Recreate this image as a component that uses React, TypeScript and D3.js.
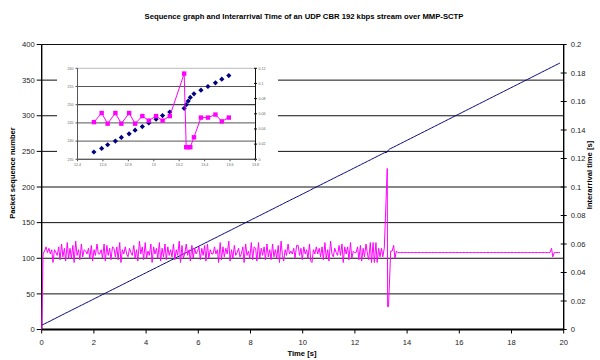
import * as React from "react";
import * as d3 from "d3";

// interarrival gaps in ms, one per received packet (first packet has no gap)
const seqStart = 6;
const gapMs = [
  0,
  53, 55, 58, 54, 57, 53, 56, 47, 56, 54,
  52, 58, 49, 60, 51, 57, 48, 61, 50, 57,
  50, 59, 47, 62, 52, 56, 49, 60, 51, 56,
  55, 53, 57, 50, 59, 48, 56, 52, 60, 53,
  53, 56, 50, 60, 48, 59, 52, 57, 49, 58,
  57, 51, 58, 49, 61, 47, 56, 53, 58, 53,
  51, 57, 54, 52, 59, 50, 56, 48, 62, 53,
  58, 49, 61, 50, 55, 52, 60, 47, 58, 53,
  57, 50, 61, 48, 57, 51, 60, 49, 58, 52,
  56, 51, 60, 49, 56, 52, 62, 47, 59, 50,
  53, 60, 52, 56, 48, 59, 50, 57, 53, 55,
  58, 49, 57, 52, 59, 48, 60, 50, 56, 53,
  53, 58, 53, 56, 47, 61, 49, 58, 51, 57,
  53, 62, 48, 56, 50, 59, 52, 54, 57, 51,
  53, 58, 47, 60, 52, 55, 50, 61, 49, 58,
  57, 48, 61, 50, 57, 52, 58, 49, 60, 51,
  56, 49, 60, 51, 56, 50, 59, 47, 62, 52,
  48, 56, 52, 60, 53, 55, 53, 57, 50, 59,
  59, 52, 57, 49, 58, 53, 56, 50, 60, 48,
  47, 56, 53, 58, 53, 57, 51, 58, 49, 61,
  50, 56, 48, 62, 53, 51, 57, 54, 52, 59,
  52, 60, 47, 58, 53, 58, 49, 61, 50, 55,
  54, 54, 58, 49, 59, 48, 57, 51, 60, 53,
  49, 61, 47, 61, 47, 61, 47, 57, 51, 57, 51, 57,
  // handover
  113, 16, 16, 16, 29, 55, 55, 59, 50, 55,
  54, 54, 54, 54, 54, 54, 54, 54, 54, 54,
  54, 54, 54, 54, 54, 54, 54, 54, 54, 54,
  54, 54, 54, 54, 54, 54, 54, 54, 54, 54,
  54, 54, 54, 54, 54, 54, 54, 54, 54, 54,
  54, 54, 54, 54, 54, 54, 54, 54, 54, 54,
  54, 54, 54, 54, 54, 54, 54, 54, 54, 54,
  54, 54, 54, 54, 54, 54, 54, 54, 54, 54,
  54, 54, 54, 54, 54, 54, 54, 54, 54, 54,
  54, 54, 54, 54, 54, 54, 54, 54, 54, 54,
  54, 54, 54, 54, 54, 54, 54, 54, 54, 54,
  54, 54, 54, 54, 54, 54, 54, 54, 54,
  57, 51,
  54, 54, 54, 54, 54,
];

const xTicks = [0, 2, 4, 6, 8, 10, 12, 14, 16, 18, 20];
const seqTicks = [0, 50, 100, 150, 200, 250, 300, 350, 400];
const gapTicks = [0, 0.02, 0.04, 0.06, 0.08, 0.1, 0.12, 0.14, 0.16, 0.18, 0.2];
const insetXTicks = [12.4, 12.6, 12.8, 13, 13.2, 13.4, 13.6, 13.8];
const insetSeqTicks = [235, 240, 245, 250, 255, 260];
const insetGapTicks = [0, 0.02, 0.04, 0.06, 0.08, 0.1, 0.12];

const TITLE = "Sequence graph and Interarrival Time of an UDP CBR 192 kbps stream over MMP-SCTP";
const BLUE = "#000080";
const PINK = "#ff00ff";
const FONT = "Liberation Sans, Arial, sans-serif";

const M = { left: 41.7, right: 563.7, top: 44.5, bottom: 329.5 };
const IN = { left: 77.5, right: 255.5, top: 68.3, bottom: 159.3 };

interface Pkt { t: number; seq: number; gap: number }

function buildPackets(): Pkt[] {
  let t = 0;
  return gapMs.map((g, i) => {
    t += g / 1000;
    return { t, seq: seqStart + i, gap: g / 1000 };
  });
}

const fmt = (v: number) => String(+v.toFixed(2));

export default function App() {
  const pkts = buildPackets();

  const x = d3.scaleLinear().domain([0, 20]).range([M.left, M.right]);
  const yL = d3.scaleLinear().domain([0, 400]).range([M.bottom, M.top]);
  const yR = d3.scaleLinear().domain([0, 0.2]).range([M.bottom, M.top]);

  const seqLine = d3.line<Pkt>().x((p) => x(p.t)).y((p) => yL(p.seq));
  const gapLine = d3.line<Pkt>().x((p) => x(p.t)).y((p) => yR(p.gap));

  const ix = d3.scaleLinear().domain([12.4, 13.8]).range([IN.left, IN.right]);
  const iyL = d3.scaleLinear().domain([235, 260]).range([IN.bottom, IN.top]);
  const iyR = d3.scaleLinear().domain([0, 0.12]).range([IN.bottom, IN.top]);
  const zoomed = pkts.filter((p) => p.t >= 12.5 && p.t <= 13.6);
  const iGapLine = d3.line<Pkt>().x((p) => ix(p.t)).y((p) => iyR(p.gap));

  const lab = { fontFamily: FONT, fontSize: 7.6, fill: "#222" };
  const small = { fontFamily: FONT, fontSize: 3.6, fill: "#666" };

  return (
    <svg
      width={600}
      height={360}
      style={{ position: "absolute", left: 0, top: 0, background: "#fff" }}
    >
      <rect x={0} y={0} width={600} height={360} fill="#fff" />
      <text x={304} y={19} textAnchor="middle" fontFamily={FONT} fontSize={7.7} fontWeight="bold">
        {TITLE}
      </text>

      {/* gridlines */}
      {seqTicks.filter((t) => t > 0).map((t) => (
        <line key={`g${t}`} x1={M.left} x2={M.right} y1={yL(t)} y2={yL(t)} stroke="#111" strokeWidth={1} />
      ))}

      {/* left axis */}
      <line x1={M.left} x2={M.left} y1={M.top} y2={M.bottom} stroke="#000" strokeWidth={1.4} />
      {seqTicks.map((t) => (
        <g key={`l${t}`}>
          <line x1={M.left - 5} x2={M.left} y1={yL(t)} y2={yL(t)} stroke="#000" />
          <text x={M.left - 7} y={yL(t)} dy="0.35em" textAnchor="end" {...lab}>{t}</text>
        </g>
      ))}

      {/* right axis */}
      <line x1={M.right} x2={M.right} y1={M.top} y2={M.bottom} stroke="#000" strokeWidth={1.4} />
      {gapTicks.map((t) => (
        <g key={`r${t}`}>
          <line x1={M.right - 3} x2={M.right + 3} y1={yR(t)} y2={yR(t)} stroke="#000" />
          <text x={M.right + 7} y={yR(t)} dy="0.35em" {...lab}>{fmt(t)}</text>
        </g>
      ))}

      {/* bottom axis */}
      <line x1={M.left} x2={M.right} y1={M.bottom} y2={M.bottom} stroke="#000" strokeWidth={1.8} />
      {xTicks.map((t) => (
        <g key={`x${t}`}>
          <line x1={x(t)} x2={x(t)} y1={M.bottom} y2={M.bottom + 4} stroke="#000" />
          <text x={x(t)} y={M.bottom + 15} textAnchor="middle" {...lab}>{t}</text>
        </g>
      ))}

      {/* series */}
      <path d={seqLine(pkts) ?? ""} fill="none" stroke={BLUE} strokeWidth={1} />
      <path d={gapLine(pkts) ?? ""} fill="none" stroke={PINK} strokeWidth={1} strokeLinejoin="round" />

      {/* axis titles */}
      <text x={302} y={356} textAnchor="middle" fontFamily={FONT} fontSize={7.6} fontWeight="bold">Time [s]</text>
      <text
        transform={`translate(15,173) rotate(-90)`}
        textAnchor="middle" fontFamily={FONT} fontSize={7.6} fontWeight="bold"
      >
        Packet sequence number
      </text>
      <text
        transform={`translate(592,175) rotate(-90)`}
        textAnchor="middle" fontFamily={FONT} fontSize={7.6} fontWeight="bold"
      >
        Interarrival time [s]
      </text>

      {/* inset: zoom on the handover */}
      <rect x={57} y={52} width={221} height={124} fill="#fff" />
      {insetSeqTicks.map((t) => (
        <line
          key={`ig${t}`} x1={IN.left} x2={IN.right} y1={iyL(t)} y2={iyL(t)}
          stroke={t === 260 ? "#bbb" : t === 250 ? "#111" : "#555"} strokeWidth={1}
        />
      ))}
      <line x1={IN.left} x2={IN.left} y1={IN.top} y2={IN.bottom} stroke="#555" />
      <line x1={IN.right} x2={IN.right} y1={IN.top} y2={IN.bottom} stroke="#111" />
      <line x1={IN.left} x2={IN.right} y1={IN.bottom} y2={IN.bottom} stroke="#555" />
      {insetSeqTicks.map((t) => (
        <g key={`il${t}`}>
          <line x1={IN.left - 2} x2={IN.left} y1={iyL(t)} y2={iyL(t)} stroke="#555" />
          <text x={IN.left - 4} y={iyL(t)} dy="0.35em" textAnchor="end" {...small}>{t}</text>
        </g>
      ))}
      {insetGapTicks.map((t) => (
        <g key={`ir${t}`}>
          <line x1={IN.right - 1.5} x2={IN.right + 1.5} y1={iyR(t)} y2={iyR(t)} stroke="#111" />
          <text x={IN.right + 3} y={iyR(t)} dy="0.35em" {...small}>{fmt(t)}</text>
        </g>
      ))}
      {insetXTicks.map((t) => (
        <g key={`ix${t}`}>
          <line x1={ix(t)} x2={ix(t)} y1={IN.bottom} y2={IN.bottom + 2} stroke="#555" />
          <text x={ix(t)} y={IN.bottom + 7} textAnchor="middle" {...small}>{fmt(t)}</text>
        </g>
      ))}
      {zoomed.map((p) => (
        <path
          key={`d${p.seq}`}
          d={`M${ix(p.t)},${iyL(p.seq) - 2.6}l2.6,2.6l-2.6,2.6l-2.6,-2.6z`}
          fill={BLUE}
        />
      ))}
      <path d={iGapLine(zoomed) ?? ""} fill="none" stroke={PINK} strokeWidth={1} />
      {zoomed.map((p) => (
        <rect key={`s${p.seq}`} x={ix(p.t) - 2.2} y={iyR(p.gap) - 2.2} width={4.4} height={4.4} fill={PINK} />
      ))}
    </svg>
  );
}
